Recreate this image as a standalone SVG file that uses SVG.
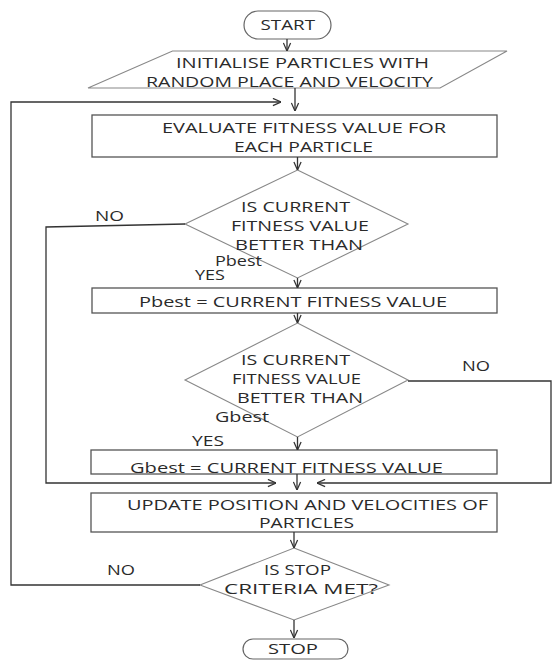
<svg xmlns="http://www.w3.org/2000/svg" width="552" height="660" viewBox="0 0 552 660">
<style>
text{font-family:"Open Sans","Liberation Sans",sans-serif;font-size:14px;fill:#2a2a2a;}
.box{fill:none;stroke:#555;stroke-width:1.3;}
.dia{fill:none;stroke:#888;stroke-width:1.1;}
.term{fill:none;stroke:#666;stroke-width:1.2;}
.conn{fill:none;stroke:#333;stroke-width:1.3;}
.arr{fill:none;stroke:#333;stroke-width:1.3;marker-end:url(#ah);}
</style>
<defs>
<marker id="ah" viewBox="0 0 10 10" refX="10" refY="5" markerWidth="9" markerHeight="9" markerUnits="userSpaceOnUse" orient="auto">
<path d="M1,1 L10,5 L1,9" fill="none" stroke="#333" stroke-width="1.4"/>
</marker>
</defs>
<rect width="552" height="660" fill="#fff"/>
<g id="start">
<rect class="term" x="244" y="11" width="87" height="28" rx="14"/>
<text x="260.5" y="30" textLength="54.5" lengthAdjust="spacingAndGlyphs">START</text>
</g>
<g id="init">
<polygon class="dia" points="172.5,51 507,51 440,88 88,88"/>
<text x="176" y="68" textLength="253" lengthAdjust="spacingAndGlyphs">INITIALISE PARTICLES WITH</text>
<text x="146" y="87" textLength="287" lengthAdjust="spacingAndGlyphs">RANDOM PLACE AND VELOCITY</text>
</g>
<g id="evaluate">
<rect class="box" x="92" y="115" width="405" height="42"/>
<text x="162" y="133" textLength="284" lengthAdjust="spacingAndGlyphs">EVALUATE FITNESS VALUE FOR</text>
<text x="234" y="152" textLength="139" lengthAdjust="spacingAndGlyphs">EACH PARTICLE</text>
</g>
<g id="decision-pbest">
<polygon class="dia" points="297.5,170 408,224 297.5,278 185,224"/>
<text x="241" y="212" textLength="109" lengthAdjust="spacingAndGlyphs">IS CURRENT</text>
<text x="231" y="231" textLength="138" lengthAdjust="spacingAndGlyphs">FITNESS VALUE</text>
<text x="235" y="250" textLength="128" lengthAdjust="spacingAndGlyphs">BETTER THAN</text>
<text x="215" y="266" textLength="47" lengthAdjust="spacingAndGlyphs">Pbest</text>
</g>
<g id="pbest">
<rect class="box" x="92" y="288" width="405" height="25"/>
<text x="139" y="307" textLength="308" lengthAdjust="spacingAndGlyphs">Pbest = CURRENT FITNESS VALUE</text>
</g>
<g id="decision-gbest">
<polygon class="dia" points="297.5,323 408,380 297.5,437 185,380"/>
<text x="241" y="365" textLength="109" lengthAdjust="spacingAndGlyphs">IS CURRENT</text>
<text x="232" y="384" textLength="129" lengthAdjust="spacingAndGlyphs">FITNESS VALUE</text>
<text x="237" y="403" textLength="126" lengthAdjust="spacingAndGlyphs">BETTER THAN</text>
<text x="215" y="422" textLength="54" lengthAdjust="spacingAndGlyphs">Gbest</text>
</g>
<g id="gbest">
<rect class="box" x="91" y="450" width="406" height="24"/>
<text x="130" y="473" textLength="313" lengthAdjust="spacingAndGlyphs">Gbest = CURRENT FITNESS VALUE</text>
</g>
<g id="update">
<rect class="box" x="91" y="493" width="406" height="39"/>
<text x="127" y="510" textLength="361" lengthAdjust="spacingAndGlyphs">UPDATE POSITION AND VELOCITIES OF</text>
<text x="259" y="528" textLength="95" lengthAdjust="spacingAndGlyphs">PARTICLES</text>
</g>
<g id="decision-stop">
<polygon class="dia" points="294,548 389,585 294,620 200,585"/>
<text x="264" y="575" textLength="67" lengthAdjust="spacingAndGlyphs">IS STOP</text>
<text x="224" y="594" textLength="154" lengthAdjust="spacingAndGlyphs">CRITERIA MET?</text>
</g>
<g id="stop">
<rect class="term" x="243" y="639" width="105" height="20" rx="10"/>
<text x="268" y="654" font-size="13" textLength="50" lengthAdjust="spacingAndGlyphs">STOP</text>
</g>
<g id="connectors">
<line class="arr" x1="287" y1="39" x2="287" y2="51"/>
<line class="arr" x1="295" y1="88" x2="295" y2="111"/>
<polyline class="arr" points="200,585 11,585 11,102 281,102"/>
<line class="arr" x1="297.5" y1="157" x2="297.5" y2="170"/>
<line class="arr" x1="297.5" y1="278" x2="297.5" y2="288"/>
<polyline class="arr" points="185,224 46,227 46,483 276,483"/>
<line class="arr" x1="297.5" y1="313" x2="297.5" y2="323"/>
<polyline class="arr" points="408,381 551,381 551,483 317,483"/>
<line class="arr" x1="297.5" y1="437" x2="297.5" y2="450"/>
<line class="arr" x1="297" y1="474" x2="297" y2="490"/>
<line class="arr" x1="294" y1="532" x2="294" y2="548"/>
<line class="arr" x1="294" y1="620" x2="294" y2="638"/>
<text x="95" y="221" textLength="29" lengthAdjust="spacingAndGlyphs">NO</text>
<text x="195" y="280" textLength="30" lengthAdjust="spacingAndGlyphs">YES</text>
<text x="462" y="371" textLength="28" lengthAdjust="spacingAndGlyphs">NO</text>
<text x="192" y="446" textLength="32" lengthAdjust="spacingAndGlyphs">YES</text>
<text x="107" y="575" textLength="28" lengthAdjust="spacingAndGlyphs">NO</text>
</g>
</svg>
